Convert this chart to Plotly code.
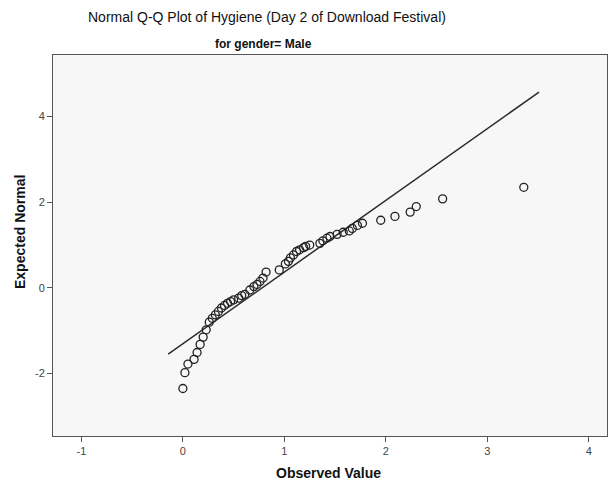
import plotly.graph_objects as go

# Observed hygiene values (unique) and their expected normal scores
observed = [0.00, 0.02, 0.05, 0.11, 0.14, 0.17, 0.20, 0.23, 0.26, 0.29, 0.32, 0.35,
            0.38, 0.41, 0.44, 0.47, 0.50, 0.55, 0.58, 0.61, 0.66, 0.70, 0.73, 0.76,
            0.79, 0.82, 0.95, 1.01, 1.04, 1.06, 1.09, 1.12, 1.15, 1.19, 1.21, 1.25,
            1.35, 1.38, 1.42, 1.45, 1.52, 1.58, 1.64, 1.67, 1.72, 1.77, 1.95, 2.09,
            2.24, 2.30, 2.56, 3.36]
expected = [-2.35, -1.98, -1.78, -1.67, -1.51, -1.32, -1.15, -0.98, -0.80, -0.71, -0.63, -0.55,
            -0.47, -0.41, -0.36, -0.32, -0.28, -0.24, -0.18, -0.15, -0.05, 0.03, 0.08, 0.15,
            0.23, 0.37, 0.42, 0.56, 0.62, 0.70, 0.77, 0.85, 0.89, 0.94, 0.97, 1.00,
            1.04, 1.10, 1.16, 1.20, 1.25, 1.30, 1.33, 1.39, 1.46, 1.51, 1.58, 1.67,
            1.77, 1.90, 2.08, 2.35]

# Reference line: normal with sample mean and sd
mean_val = 0.78
sd_val = 0.597
line_x = [-0.145, 3.51]
line_y = [(v - mean_val) / sd_val for v in line_x]

x_ticks = [-1, 0, 1, 2, 3, 4]
x_tick_labels = ["-1", "0", "1", "2", "3", "4"]
y_ticks = [-2, 0, 2, 4]
y_tick_labels = ["-2", "0", "2", "4"]

FONT = "Liberation Sans, Arial, sans-serif"

fig = go.Figure()
fig.add_trace(go.Scatter(x=line_x, y=line_y, mode="lines",
                         line=dict(color="#2b2b2b", width=1.5),
                         hoverinfo="skip", showlegend=False))
fig.add_trace(go.Scatter(x=observed, y=expected, mode="markers",
                         marker=dict(symbol="circle-open", size=8,
                                     color="#222222", line=dict(width=1.3, color="#222222")),
                         showlegend=False))

fig.update_layout(
    width=610, height=487,
    margin=dict(l=53, r=3, t=55, b=51),
    paper_bgcolor="white",
    plot_bgcolor="#f7f7f7",
    font=dict(family=FONT, color="#333333"),
    showlegend=False,
    xaxis=dict(range=[-1.28, 4.18], tickvals=x_ticks, ticktext=x_tick_labels,
               ticks="outside", ticklen=5,
               tickcolor="#555555", showgrid=False, zeroline=False,
               showline=True, linecolor="#555555", linewidth=1, mirror=True,
               tickfont=dict(size=11, color="#444444")),
    yaxis=dict(range=[-3.46, 5.44], tickvals=y_ticks, ticktext=y_tick_labels,
               ticks="outside", ticklen=5,
               tickcolor="#555555", showgrid=False, zeroline=False,
               showline=True, linecolor="#555555", linewidth=1, mirror=True,
               tickfont=dict(size=11, color="#444444")),
    annotations=[
        dict(text="Normal Q-Q Plot of Hygiene (Day 2 of Download Festival)",
             xref="paper", yref="paper", x=(267 - 53) / 554, y=1 + (55 - 17) / 381,
             xanchor="center", yanchor="middle", showarrow=False,
             font=dict(size=14, color="#111111", family=FONT)),
        dict(text="<b>for gender= Male</b>",
             xref="paper", yref="paper", x=(263 - 53) / 554, y=1 + (55 - 44) / 381,
             xanchor="center", yanchor="middle", showarrow=False,
             font=dict(size=12, color="#111111", family=FONT)),
        dict(text="<b>Observed Value</b>",
             xref="paper", yref="paper", x=(328 - 53) / 554, y=-(473 - 436) / 381,
             xanchor="center", yanchor="middle", showarrow=False,
             font=dict(size=14, color="#111111", family=FONT)),
        dict(text="<b>Expected Normal</b>", textangle=-90,
             xref="paper", yref="paper", x=-(53 - 20) / 554, y=(436 - 232) / 381,
             xanchor="center", yanchor="middle", showarrow=False,
             font=dict(size=14, color="#111111", family=FONT)),
    ],
)

fig.write_html("out.html")
